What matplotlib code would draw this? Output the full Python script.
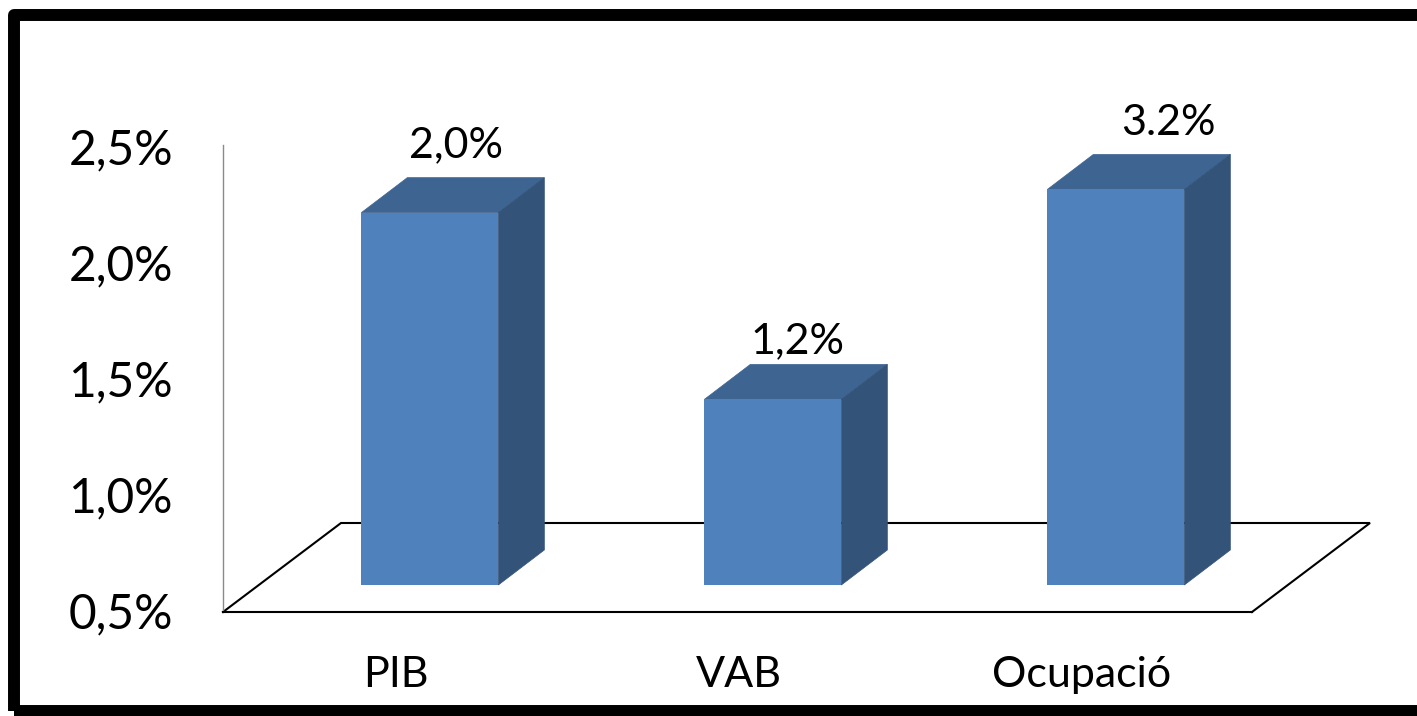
import numpy as np
import matplotlib
matplotlib.use("Agg")
import matplotlib.pyplot as plt
from matplotlib.patches import Rectangle
from matplotlib.transforms import Affine2D

plt.rcParams['font.family'] = ['Lato', 'DejaVu Sans']

categories = ["PIB", "VAB", "Ocupació"]
values = [2.105, 1.30, 2.205]
value_labels = ["2,0%", "1,2%", "3.2%"]
y_ticks = [0.5, 1.0, 1.5, 2.0, 2.5]
y_tick_labels = ["0,5%", "1,0%", "1,5%", "2,0%", "2,5%"]

# layout, in pixels of the 1417x716 picture
W, H = 1417, 716
left, right, top, bottom = 223, 1252, 145, 612
px_per_x = 343.0
px_per_y = 232.0
bar_w = 137 / px_per_x
bar_dx = 46 / px_per_x
bar_dy = 35 / px_per_y
lift = 27 / px_per_y
floor_dx = 118 / px_per_x
floor_dy = 89 / px_per_y
label_offsets = [(26, 67), (25, 58), (53, 66)]

fig = plt.figure(figsize=(W / 100, H / 100), dpi=100, facecolor='white')
ax = fig.add_axes([left / W, 1 - bottom / H, (right - left) / W, (bottom - top) / H])
ax.set_xlim(-0.603, 2.397)
ax.set_ylim(0.5, 0.5 + (bottom - top) / px_per_y)
ax.patch.set_visible(False)

for name in ('top', 'right'):
    ax.spines[name].set_visible(False)
ax.spines['left'].set_color('#8a8a8a')
ax.spines['left'].set_linewidth(1.0)
ax.spines['bottom'].set_color('black')
ax.spines['bottom'].set_linewidth(1.5)

# floor of the 3d box
x0, x1 = ax.get_xlim()
y0 = ax.get_ylim()[0]
ax.plot([x0, x0 + floor_dx, x1 + floor_dx, x1], [y0, y0 + floor_dy, y0 + floor_dy, y0],
        color='black', linewidth=1.5, clip_on=False, zorder=1, solid_joinstyle='miter')

# bars: front through ax.bar, then top and side faces
xs = np.arange(len(categories))
base = y0 + lift
for x, v in zip(xs, values):
    xl, xr = x - bar_w / 2, x + bar_w / 2
    yt = v + lift
    ax.fill([xl, xr, xr + bar_dx, xl + bar_dx], [yt, yt, yt + bar_dy, yt + bar_dy],
            facecolor='#3E6491', edgecolor='#3E6491', linewidth=0.5, clip_on=False, zorder=3)
    ax.fill([xr, xr + bar_dx, xr + bar_dx, xr], [base, base + bar_dy, yt + bar_dy, yt],
            facecolor='#335379', edgecolor='#335379', linewidth=0.5, clip_on=False, zorder=3)
ax.bar(xs, np.array(values) - y0, bottom=base, width=bar_w, color='#4F81BD', zorder=4)

for x, v, txt, off in zip(xs, values, value_labels, label_offsets):
    ax.annotate(txt, xy=(x, v + lift), xytext=off, textcoords='offset pixels',
                ha='center', va='center', fontsize=31, color='black', annotation_clip=False)

ax.set_yticks(y_ticks)
ax.set_yticklabels(y_tick_labels, fontsize=34.5)
ax.tick_params(axis='y', length=0, pad=36)
# labels sit a little higher than the gridline value
for lab in ax.get_yticklabels():
    lab.set_transform(lab.get_transform() + Affine2D().translate(0, 2))
ax.set_xticks(xs - 0.1)
ax.set_xticklabels(categories, fontsize=31)
ax.tick_params(axis='x', length=0, pad=32)

# heavy black frame, runs off the right edge
fig.add_artist(Rectangle((14 / W, 1 - 710.5 / H), (W + 20) / W, (710.5 - 15) / H,
                         transform=fig.transFigure, fill=False, edgecolor='black',
                         linewidth=8.6, joinstyle='round'))

fig.savefig('out.png', dpi=100)
